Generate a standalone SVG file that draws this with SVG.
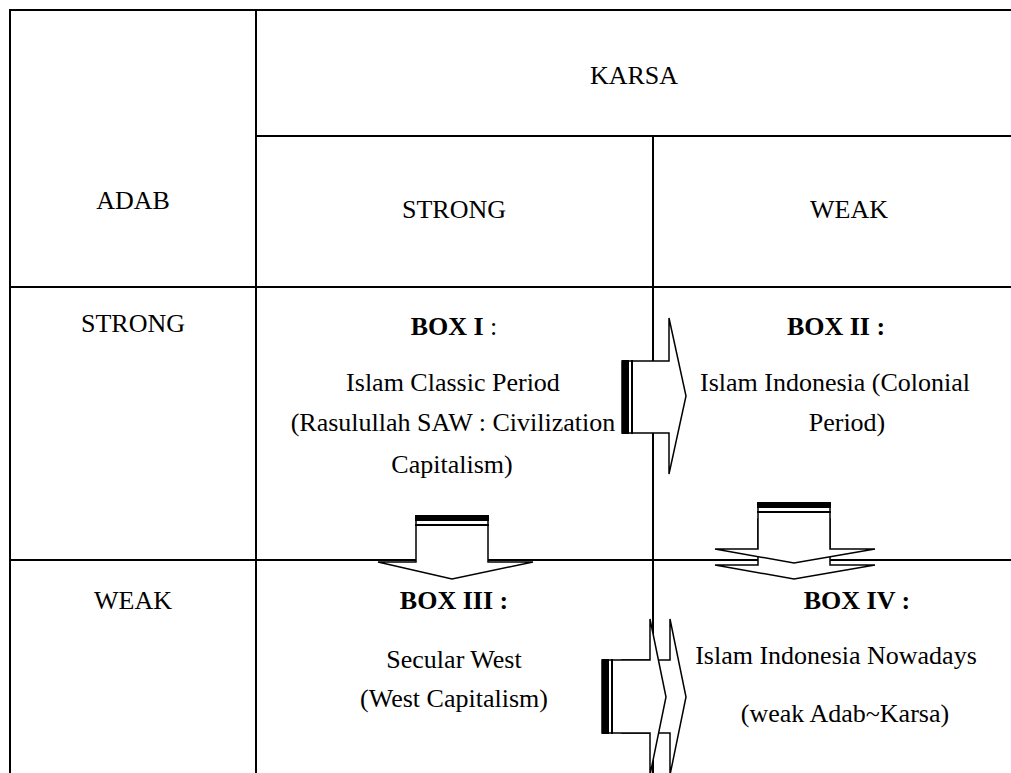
<svg xmlns="http://www.w3.org/2000/svg" width="1011" height="773" viewBox="0 0 1011 773">
<style>
  .grid line { stroke:#000; stroke-width:2; }
  text { font-family:"Liberation Serif","Times New Roman",serif; font-size:26px; fill:#000; text-anchor:middle; }
  .b { font-weight:bold; }
  .arr { fill:#fff; stroke:#000; stroke-width:1.5; stroke-linejoin:miter; }
  .bar { fill:#000; }
</style>
<rect width="1011" height="773" fill="#fff"/>
<g id="grid" class="grid">
  <line x1="9" y1="10" x2="1011" y2="10"/>
  <line x1="10" y1="9" x2="10" y2="773"/>
  <line x1="256" y1="10" x2="256" y2="773"/>
  <line x1="256" y1="136" x2="1011" y2="136"/>
  <line x1="653" y1="136" x2="653" y2="773"/>
  <line x1="9" y1="287" x2="1011" y2="287"/>
  <line x1="9" y1="560" x2="1011" y2="560"/>
</g>
<g id="header-karsa"><text x="634" y="84">KARSA</text></g>
<g id="header-adab"><text x="133" y="209">ADAB</text></g>
<g id="col-strong"><text x="454" y="218">STRONG</text></g>
<g id="col-weak"><text x="849" y="218">WEAK</text></g>
<g id="row-strong"><text x="133" y="332">STRONG</text></g>
<g id="row-weak"><text x="133" y="609">WEAK</text></g>
<g id="box1">
  <text x="454" y="335"><tspan class="b">BOX I</tspan> :</text>
  <text x="453" y="391">Islam Classic Period</text>
  <text x="453" y="431">(Rasulullah SAW : Civilization</text>
  <text x="452" y="473">Capitalism)</text>
</g>
<g id="box2">
  <text x="836" y="335" class="b">BOX II :</text>
  <text x="835" y="391">Islam Indonesia (Colonial</text>
  <text x="847" y="431">Period)</text>
</g>
<g id="box3">
  <text x="454" y="609" class="b">BOX III :</text>
  <text x="454" y="668">Secular West</text>
  <text x="454" y="707">(West Capitalism)</text>
</g>
<g id="box4">
  <text x="857" y="609" class="b">BOX IV :</text>
  <text x="836" y="664">Islam Indonesia Nowadays</text>
  <text x="845" y="722">(weak Adab~Karsa)</text>
</g>
<g id="connectors">
  <!-- BOX I -> BOX II -->
  <g id="arrow-1-2">
    <path class="arr" d="M622,361 L669,361 L669,318 L686,396 L669,474 L669,433 L622,433 Z"/>
    <rect class="bar" x="622" y="360" width="7" height="74"/>
    <rect class="bar" x="631" y="360" width="2" height="74"/>
  </g>
  <!-- BOX I -> BOX III -->
  <g id="arrow-1-3">
    <path class="arr" d="M416,516 L416,562 L378,562 L452,579 L533,562 L488,562 L488,516 Z"/>
    <rect class="bar" x="415" y="515" width="74" height="6"/>
    <rect class="bar" x="415" y="524" width="74" height="2"/>
  </g>
  <!-- BOX II -> BOX IV (double) -->
  <g id="arrow-2-4">
    <path class="arr" d="M758,519 L758,565 L715,565 L794,579 L875,565 L830,565 L830,519 Z"/>
    <path class="arr" d="M758,503 L758,549 L715,549 L794,563 L875,549 L830,549 L830,503 Z"/>
    <rect class="bar" x="757" y="502" width="74" height="6"/>
    <rect class="bar" x="757" y="511" width="74" height="2"/>
  </g>
  <!-- BOX III -> BOX IV (double) -->
  <g id="arrow-3-4">
    <path class="arr" d="M622,660 L670,660 L670,619 L686,697 L670,775 L670,733 L622,733 Z"/>
    <path class="arr" d="M602,660 L650,660 L650,619 L666,697 L650,775 L650,733 L602,733 Z"/>
    <rect class="bar" x="602" y="659" width="7" height="75"/>
    <rect class="bar" x="611" y="659" width="2" height="75"/>
  </g>
</g>
</svg>
